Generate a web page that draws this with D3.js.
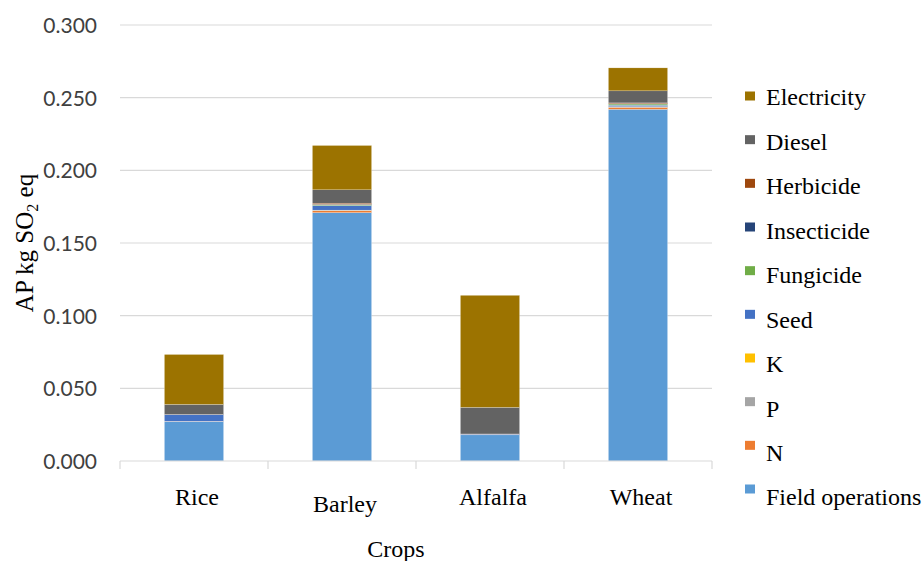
<!DOCTYPE html>
<html>
<head>
<meta charset="utf-8">
<script src="https://cdn.jsdelivr.net/npm/d3@7"></script>
<style>
  html, body { margin: 0; padding: 0; background: #fff; }
  svg { display: block; }
</style>
</head>
<body>
<svg id="chart" width="923" height="561"></svg>
<script>
// Crops on the x axis
const crops = ["Rice", "Barley", "Alfalfa", "Wheat"];

// Stack order, bottom to top
const sources = ["Field operations", "N", "P", "K", "Seed", "Fungicide", "Insecticide", "Herbicide", "Diesel", "Electricity"];

// Acidification potential per source (kg SO2 eq), one value per crop
const fieldOperations = [0.0270, 0.1709, 0.0180, 0.2420];
const nitrogen        = [0.0002, 0.0014, 0.0001, 0.0014];
const phosphorus      = [0.0001, 0.0002, 0.0000, 0.0002];
const potassium       = [0.0000, 0.0001, 0.0000, 0.0002];
const seed            = [0.0046, 0.0032, 0.0004, 0.0010];
const fungicide       = [0.0000, 0.0005, 0.0000, 0.0008];
const insecticide     = [0.0000, 0.0003, 0.0000, 0.0003];
const herbicide       = [0.0001, 0.0008, 0.0001, 0.0005];
const diesel          = [0.0069, 0.0092, 0.0183, 0.0083];
const electricity     = [0.0344, 0.0305, 0.0771, 0.0158];

const seriesValues = [fieldOperations, nitrogen, phosphorus, potassium, seed,
                      fungicide, insecticide, herbicide, diesel, electricity];

// Y axis tick values
const yTicks = [0, 0.05, 0.10, 0.15, 0.20, 0.25, 0.30];

const colors = ["#5B9BD5", "#ED7D31", "#A5A5A5", "#FFC000", "#4472C4",
                "#70AD47", "#264478", "#9E480E", "#636363", "#9C7300"];

// Build rows for d3.stack
const rows = crops.map((c, i) => {
  const r = { crop: c };
  sources.forEach((s, j) => { r[s] = seriesValues[j][i]; });
  return r;
});
const stacked = d3.stack().keys(sources)(rows);

const svg = d3.select("#chart");
const plotLeft = 120, plotRight = 712, plotTop = 25, plotBottom = 461;
const serif = "'Liberation Serif', 'Times New Roman', serif";

const x = d3.scaleBand().domain(crops).range([plotLeft, plotRight]).paddingInner(0.6).paddingOuter(0.3);
const band = d3.scaleBand().domain(crops).range([plotLeft, plotRight]);
const y = d3.scaleLinear().domain([0, 0.30]).range([plotBottom, plotTop]);

// Gridlines
svg.append("g").selectAll("line").data(yTicks.slice(1)).join("line")
  .attr("x1", plotLeft).attr("x2", plotRight)
  .attr("y1", d => y(d)).attr("y2", d => y(d))
  .attr("stroke", "#d9d9d9").attr("stroke-width", 1.2);

// Y tick labels
const yAxis = d3.axisLeft(y).tickValues(yTicks).tickFormat(d3.format(".3f")).tickSize(0).tickPadding(0);
const gy = svg.append("g").attr("transform", `translate(97,0)`).call(yAxis);
gy.select(".domain").remove();
gy.selectAll("text")
  .attr("font-family", "Lato, 'Open Sans', sans-serif")
  .attr("font-size", 21).attr("fill", "#404040").attr("dy", "0.35em");

// Bars
svg.append("g").selectAll("g").data(stacked).join("g")
  .attr("fill", (d, i) => colors[i])
  .selectAll("rect").data(d => d).join("rect")
  .attr("x", d => x(d.data.crop))
  .attr("width", x.bandwidth())
  .attr("y", d => y(d[1]))
  .attr("height", d => Math.max(0, y(d[0]) - y(d[1])))
  .attr("stroke", "#fff").attr("stroke-width", 0.4).attr("stroke-opacity", 0.6);

// X axis line with category boundary ticks
const gx = svg.append("g");
gx.append("line").attr("x1", plotLeft).attr("x2", plotRight).attr("y1", plotBottom).attr("y2", plotBottom)
  .attr("stroke", "#d9d9d9").attr("stroke-width", 1.2);
gx.selectAll("line.tk").data(crops.map(c => band(c)).concat([plotRight])).join("line")
  .attr("class", "tk")
  .attr("x1", d => d).attr("x2", d => d).attr("y1", plotBottom).attr("y2", plotBottom + 8)
  .attr("stroke", "#d9d9d9").attr("stroke-width", 1.2);

// Category labels (Barley sits a little lower)
const labelDy = { Rice: 0, Barley: 7, Alfalfa: 0, Wheat: 0 };
gx.selectAll("text").data(crops).join("text")
  .attr("x", d => band(d) + band.bandwidth() / 2 + 3)
  .attr("y", d => 505 + labelDy[d])
  .attr("text-anchor", "middle")
  .attr("font-family", serif)
  .attr("font-size", 24).attr("fill", "#000")
  .text(d => d);

// Axis titles
svg.append("text").attr("x", 396).attr("y", 557).attr("text-anchor", "middle")
  .attr("font-family", serif)
  .attr("font-size", 24).text("Crops");

const yTitle = svg.append("text")
  .attr("transform", "translate(33,243) rotate(-90)")
  .attr("text-anchor", "middle")
  .attr("font-family", serif)
  .attr("font-size", 25);
yTitle.append("tspan").text("AP kg SO");
yTitle.append("tspan").attr("font-size", 16).attr("dy", 5).text("2");
yTitle.append("tspan").attr("dy", -5).text(" eq");

// Legend, top entry is the top of the stack
const legendItems = sources.slice().reverse();
const legendColors = colors.slice().reverse();
const ly = d3.scalePoint().domain(legendItems).range([96, 489]);
const lt = d3.scalePoint().domain(legendItems).range([97, 497]);
const lg = svg.append("g");
lg.selectAll("rect").data(legendItems).join("rect")
  .attr("x", 745).attr("y", d => ly(d) - 4.5).attr("width", 10).attr("height", 9)
  .attr("fill", (d, i) => legendColors[i]);
lg.selectAll("text").data(legendItems).join("text")
  .attr("x", 766).attr("y", d => lt(d)).attr("dy", "0.35em")
  .attr("font-family", serif)
  .attr("font-size", 24).attr("fill", "#000")
  .text(d => d);
</script>
</body>
</html>
